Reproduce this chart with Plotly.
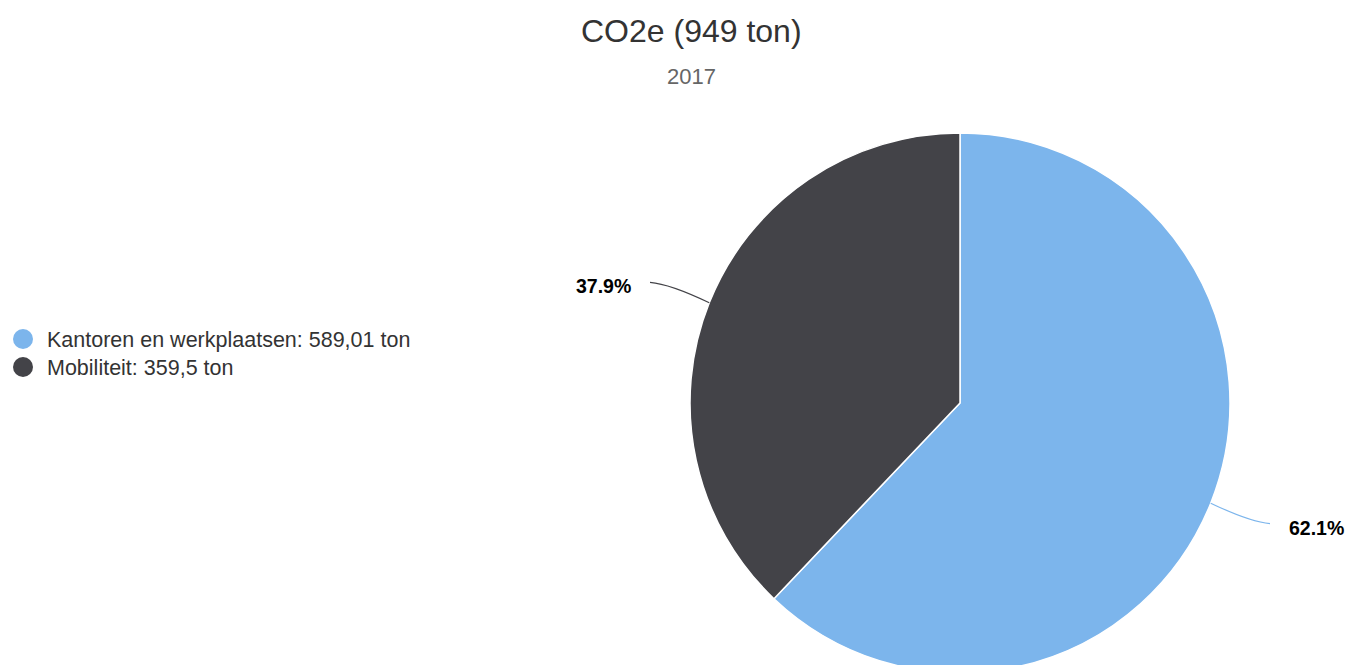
import math
import plotly.graph_objects as go

# ---- data ----
categories = ["Kantoren en werkplaatsen", "Mobiliteit"]
values = [589.01, 359.5]
value_labels = ["589,01", "359,5"]
colors = ["#7cb5ec", "#434348"]
title_text = "CO2e (949 ton)"
subtitle_text = "2017"

# ---- layout geometry (pixels) ----
W, H = 1345, 680
CX, CY, R = 960, 403, 270
FONT = "Liberation Sans, Arial, Helvetica, sans-serif"


def px(x):
    return x / W


def py(y):
    return 1 - y / H


fig = go.Figure()
fig.add_trace(go.Pie(
    labels=categories,
    values=values,
    sort=False,
    direction="clockwise",
    rotation=0,
    textinfo="none",
    hoverinfo="label+value+percent",
    marker=dict(colors=colors, line=dict(color="#ffffff", width=1.5)),
    domain=dict(x=[px(CX - R), px(CX + R)], y=[py(CY + R), py(CY - R)]),
    showlegend=False,
))

shapes = []
annotations = []

# data labels with connectors, positions derived from slice angles
total = sum(values)
start = 0.0
for cat, v, col in zip(categories, values, colors):
    frac = v / total
    mid = (start + frac / 2) * 2 * math.pi
    start += frac
    s, c = math.sin(mid), math.cos(mid)
    sign = 1 if s >= 0 else -1
    ex, ey = CX + R * s, CY - R * c
    lx, ly = CX + sign * (R + 40), CY - (R + 55) * c
    qx, qy = lx - sign * 20, ly + (ey - ly) * 0.08
    path = "M {} {} Q {} {} {} {}".format(px(lx), py(ly), px(qx), py(qy), px(ex), py(ey))
    shapes.append(dict(type="path", xref="paper", yref="paper", path=path,
                       line=dict(color=col, width=1.2)))
    annotations.append(dict(
        x=px(lx + sign * 17), y=py(ly + 4), xref="paper", yref="paper",
        xanchor="left" if sign > 0 else "right", yanchor="middle",
        text="<b>{:.1f}%</b>".format(frac * 100), showarrow=False,
        font=dict(family=FONT, size=19.5, color="#000000"),
    ))

# title and subtitle
annotations.append(dict(x=px(691.5), y=py(31), xref="paper", yref="paper",
                        xanchor="center", yanchor="middle", text=title_text,
                        showarrow=False, font=dict(family=FONT, size=32, color="#333333")))
annotations.append(dict(x=px(691.5), y=py(76), xref="paper", yref="paper",
                        xanchor="center", yanchor="middle", text=subtitle_text,
                        showarrow=False, font=dict(family=FONT, size=22, color="#666666")))

# legend (circles + text)
for i, (cat, vl, col) in enumerate(zip(categories, value_labels, colors)):
    yc = 339 + i * 28
    shapes.append(dict(type="circle", xref="paper", yref="paper",
                       x0=px(13), x1=px(33), y0=py(yc + 10), y1=py(yc - 10),
                       fillcolor=col, line=dict(width=0)))
    annotations.append(dict(x=px(45), y=py(yc + 1), xref="paper", yref="paper",
                            xanchor="left", yanchor="middle",
                            text="{}: {} ton".format(cat, vl), showarrow=False,
                            font=dict(family=FONT, size=21.5, color="#333333")))

fig.update_layout(
    width=W, height=H,
    margin=dict(l=0, r=0, t=0, b=0),
    paper_bgcolor="#ffffff", plot_bgcolor="#ffffff",
    shapes=shapes, annotations=annotations,
    showlegend=False,
)

fig.write_html(
    "out.html",
    post_script="document.body.style.margin='0';document.body.style.overflow='hidden';document.documentElement.style.overflow='hidden';",
)
